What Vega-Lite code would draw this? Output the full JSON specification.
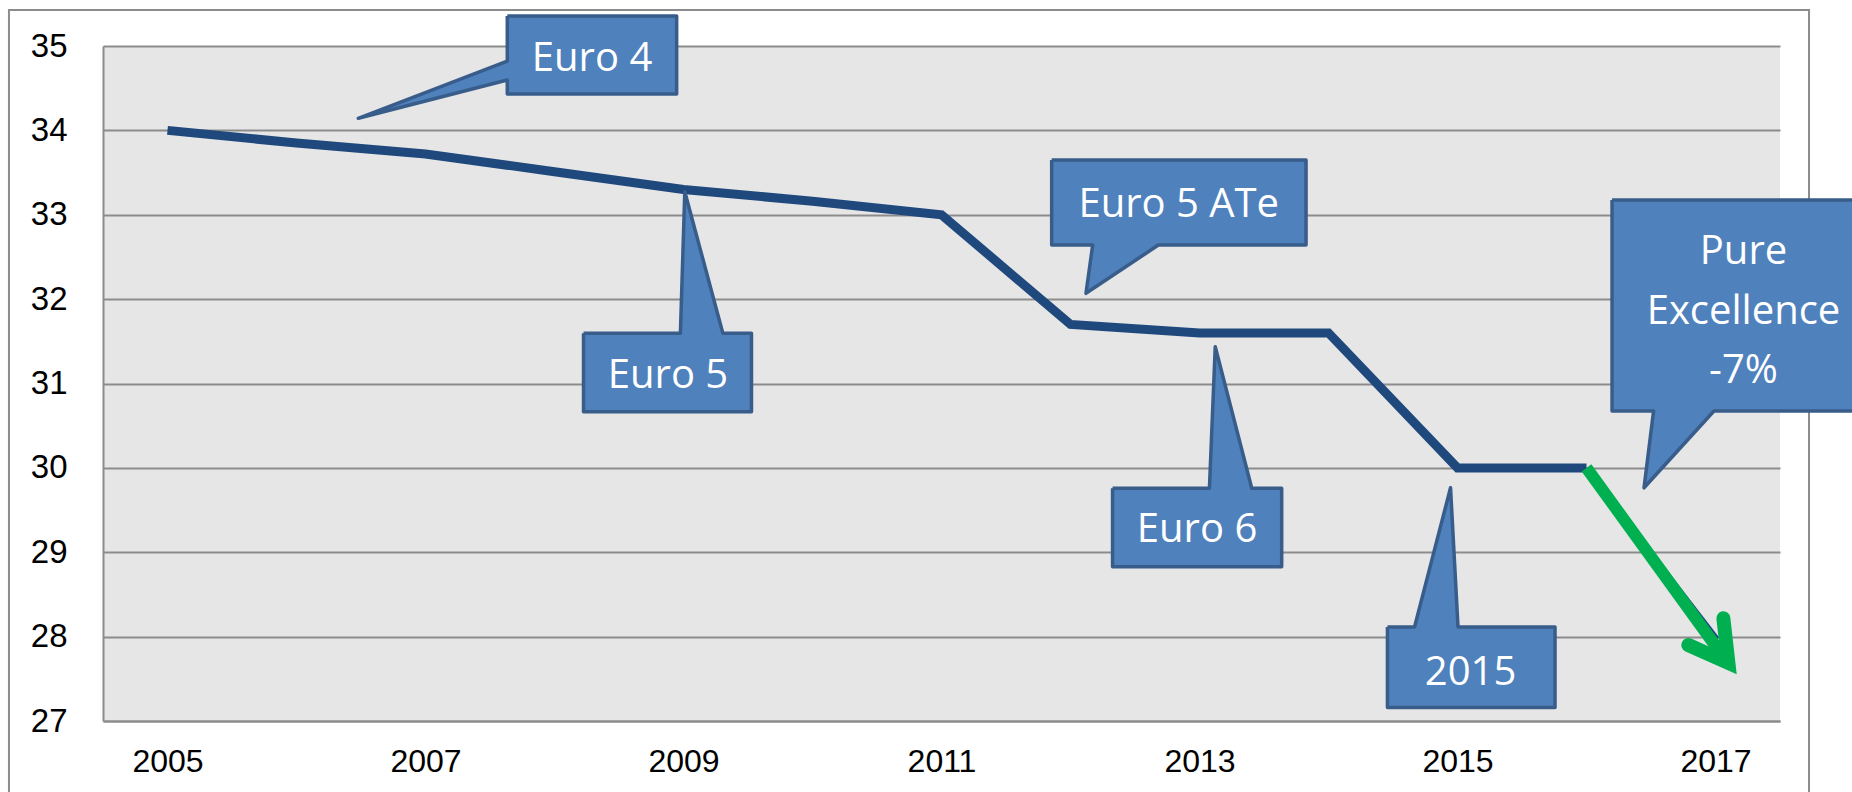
{
  "$schema": "https://vega.github.io/schema/vega-lite/v6.json",
  "width": 1677,
  "height": 675,
  "autosize": {"type": "none"},
  "padding": {"left": 103, "top": 46, "right": 72, "bottom": 71},
  "background": "white",
  "config": {"view": {"fill": "#E6E6E6", "stroke": null}},
  "datasets": {
    "series": [
      {"year": 2005, "value": 34.0},
      {"year": 2006, "value": 33.85},
      {"year": 2007, "value": 33.72},
      {"year": 2008, "value": 33.51},
      {"year": 2009, "value": 33.3},
      {"year": 2010, "value": 33.16},
      {"year": 2011, "value": 33.0},
      {"year": 2012, "value": 31.7},
      {"year": 2013, "value": 31.6},
      {"year": 2014, "value": 31.6},
      {"year": 2015, "value": 30.0},
      {"year": 2016, "value": 30.0}
    ],
    "forecast": [
      {"year": 2016, "value": 30.0},
      {"year": 2017.02, "value": 27.98}
    ],
    "shaft": [
      {"year": 2016, "value": 30.0},
      {"year": 2017.1, "value": 27.68}
    ],
    "head": [
      {"i": 0, "year": 2016.789, "value": 27.901},
      {"i": 1, "year": 2017.1, "value": 27.69},
      {"i": 2, "year": 2017.061, "value": 28.217}
    ],
    "frame": [
      {"x1": 2003.771, "x2": 2017.725, "y1": 35.427, "y2": 26.0}
    ],
    "callouts": [
      {"id": "e4", "i": 0, "x": 2007.634, "y": 35.356},
      {"id": "e4", "i": 1, "x": 2008.947, "y": 35.356},
      {"id": "e4", "i": 2, "x": 2008.947, "y": 34.431},
      {"id": "e4", "i": 3, "x": 2007.634, "y": 34.431},
      {"id": "e4", "i": 4, "x": 2007.634, "y": 34.597},
      {"id": "e4", "i": 5, "x": 2006.479, "y": 34.143},
      {"id": "e4", "i": 6, "x": 2007.634, "y": 34.822},
      {"id": "e4", "i": 7, "x": 2007.634, "y": 35.356},

      {"id": "e5", "i": 0, "x": 2008.225, "y": 31.595},
      {"id": "e5", "i": 1, "x": 2008.976, "y": 31.595},
      {"id": "e5", "i": 2, "x": 2009.01, "y": 33.273},
      {"id": "e5", "i": 3, "x": 2009.305, "y": 31.595},
      {"id": "e5", "i": 4, "x": 2009.527, "y": 31.595},
      {"id": "e5", "i": 5, "x": 2009.527, "y": 30.666},
      {"id": "e5", "i": 6, "x": 2008.225, "y": 30.666},
      {"id": "e5", "i": 7, "x": 2008.225, "y": 31.595},

      {"id": "e5a", "i": 0, "x": 2011.854, "y": 33.649},
      {"id": "e5a", "i": 1, "x": 2013.826, "y": 33.649},
      {"id": "e5a", "i": 2, "x": 2013.826, "y": 32.641},
      {"id": "e5a", "i": 3, "x": 2012.681, "y": 32.641},
      {"id": "e5a", "i": 4, "x": 2012.12, "y": 32.069},
      {"id": "e5a", "i": 5, "x": 2012.172, "y": 32.641},
      {"id": "e5a", "i": 6, "x": 2011.854, "y": 32.641},
      {"id": "e5a", "i": 7, "x": 2011.854, "y": 33.649},

      {"id": "e6", "i": 0, "x": 2012.326, "y": 29.758},
      {"id": "e6", "i": 1, "x": 2013.077, "y": 29.758},
      {"id": "e6", "i": 2, "x": 2013.122, "y": 31.436},
      {"id": "e6", "i": 3, "x": 2013.405, "y": 29.758},
      {"id": "e6", "i": 4, "x": 2013.637, "y": 29.758},
      {"id": "e6", "i": 5, "x": 2013.637, "y": 28.829},
      {"id": "e6", "i": 6, "x": 2012.326, "y": 28.829},
      {"id": "e6", "i": 7, "x": 2012.326, "y": 29.758},

      {"id": "y15", "i": 0, "x": 2014.457, "y": 28.114},
      {"id": "y15", "i": 1, "x": 2014.667, "y": 28.114},
      {"id": "y15", "i": 2, "x": 2014.946, "y": 29.764},
      {"id": "y15", "i": 3, "x": 2015.004, "y": 28.114},
      {"id": "y15", "i": 4, "x": 2015.756, "y": 28.114},
      {"id": "y15", "i": 5, "x": 2015.756, "y": 27.16},
      {"id": "y15", "i": 6, "x": 2014.457, "y": 27.16},
      {"id": "y15", "i": 7, "x": 2014.457, "y": 28.114},

      {"id": "pe", "i": 0, "x": 2016.198, "y": 33.175},
      {"id": "pe", "i": 1, "x": 2018.236, "y": 33.175},
      {"id": "pe", "i": 2, "x": 2018.236, "y": 30.674},
      {"id": "pe", "i": 3, "x": 2016.988, "y": 30.674},
      {"id": "pe", "i": 4, "x": 2016.446, "y": 29.764},
      {"id": "pe", "i": 5, "x": 2016.52, "y": 30.674},
      {"id": "pe", "i": 6, "x": 2016.198, "y": 30.674},
      {"id": "pe", "i": 7, "x": 2016.198, "y": 33.175}
    ],
    "labels": [
      {"text": "Euro 4", "x": 2008.291, "y": 34.846},
      {"text": "Euro 5", "x": 2008.88, "y": 31.085},
      {"text": "Euro 5  ATe", "x": 2012.839, "y": 33.112},
      {"text": "Euro 6", "x": 2012.981, "y": 29.26},
      {"text": "2015", "x": 2015.101, "y": 27.565},
      {"text": "Pure", "x": 2017.217, "y": 32.555},
      {"text": "Excellence", "x": 2017.217, "y": 31.85},
      {"text": "-7%", "x": 2017.217, "y": 31.15}
    ]
  },
  "layer": [
    {
      "data": {"name": "series"},
      "mark": {"type": "line", "stroke": "#1F497D", "strokeWidth": 9, "strokeJoin": "miter"},
      "encoding": {
        "x": {
          "field": "year", "type": "quantitative", "title": null,
          "scale": {"domain": [2004.5, 2017.5], "nice": false, "zero": false},
          "axis": {
            "values": [2005, 2007, 2009, 2011, 2013, 2015, 2017],
            "format": "d",
            "grid": false,
            "ticks": false,
            "domain": true,
            "domainColor": "#8C8C8C",
            "domainWidth": 2,
            "labelFont": "Liberation Sans",
            "labelFontSize": 32,
            "labelColor": "#000000",
            "labelPadding": 25,
            "labelFlush": false,
            "labelOverlap": false
          }
        },
        "y": {
          "field": "value", "type": "quantitative", "title": null,
          "scale": {"domain": [27, 35], "nice": false, "zero": false},
          "axis": {
            "values": [27, 28, 29, 30, 31, 32, 33, 34, 35],
            "format": "d",
            "grid": true,
            "gridColor": "#8C8C8C",
            "gridWidth": 2,
            "ticks": false,
            "domain": true,
            "domainColor": "#8C8C8C",
            "domainWidth": 2,
            "labelFont": "Liberation Sans",
            "labelFontSize": 33,
            "labelColor": "#000000",
            "labelPadding": 36,
            "labelFlush": false,
            "labelOverlap": false
          }
        }
      }
    },
    {
      "data": {"name": "frame"},
      "mark": {"type": "rect", "filled": false, "stroke": "#8C8C8C", "strokeWidth": 2},
      "encoding": {
        "x": {"field": "x1", "type": "quantitative", "title": null},
        "x2": {"field": "x2"},
        "y": {"field": "y1", "type": "quantitative", "title": null},
        "y2": {"field": "y2"}
      }
    },
    {
      "data": {"name": "forecast"},
      "mark": {"type": "line", "stroke": "#1F497D", "strokeWidth": 3},
      "encoding": {
        "x": {"field": "year", "type": "quantitative", "title": null},
        "y": {"field": "value", "type": "quantitative", "title": null}
      }
    },
    {
      "data": {"name": "shaft"},
      "mark": {"type": "line", "stroke": "#00B050", "strokeWidth": 12},
      "encoding": {
        "x": {"field": "year", "type": "quantitative", "title": null},
        "y": {"field": "value", "type": "quantitative", "title": null}
      }
    },
    {
      "data": {"name": "head"},
      "mark": {"type": "line", "stroke": "#00B050", "strokeWidth": 14, "strokeCap": "round", "strokeJoin": "miter"},
      "encoding": {
        "x": {"field": "year", "type": "quantitative", "title": null},
        "y": {"field": "value", "type": "quantitative", "title": null},
        "order": {"field": "i"}
      }
    },
    {
      "data": {"name": "callouts"},
      "mark": {"type": "line", "fill": "#4F81BD", "stroke": "#385D8A", "strokeWidth": 3.5, "strokeJoin": "round"},
      "encoding": {
        "x": {"field": "x", "type": "quantitative", "title": null},
        "y": {"field": "y", "type": "quantitative", "title": null},
        "detail": {"field": "id"},
        "order": {"field": "i"}
      }
    },
    {
      "data": {"name": "labels"},
      "mark": {"type": "text", "font": "Open Sans", "fontSize": 40, "color": "#FFFFFF", "align": "center", "baseline": "middle"},
      "encoding": {
        "x": {"field": "x", "type": "quantitative", "title": null},
        "y": {"field": "y", "type": "quantitative", "title": null},
        "text": {"field": "text"}
      }
    }
  ]
}
